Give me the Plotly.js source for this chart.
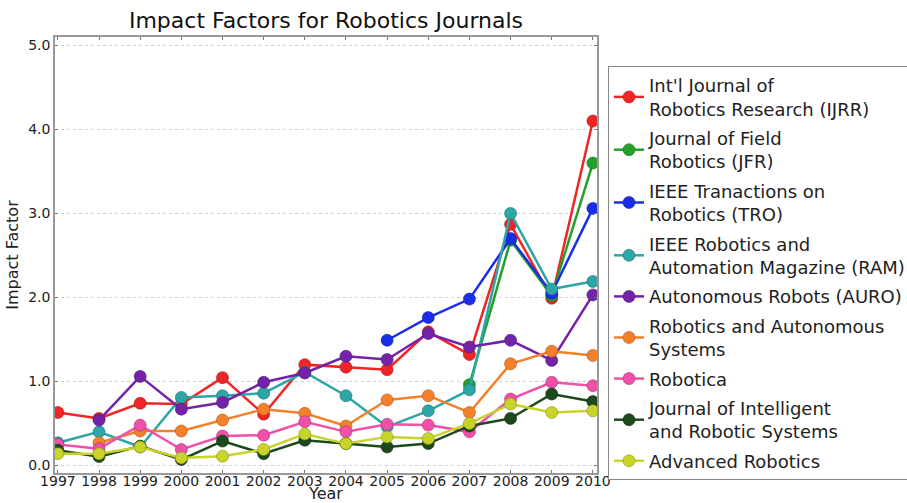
<!DOCTYPE html>
<html>
<head>
<meta charset="utf-8">
<script src="https://cdn.plot.ly/plotly-3.0.1.min.js"></script>
<style>html,body{margin:0;padding:0;background:#fff;}#chart{width:907px;height:503px;}</style>
</head>
<body>
<div id="chart"></div>
<script>
const years = [1997,1998,1999,2000,2001,2002,2003,2004,2005,2006,2007,2008,2009,2010];
const names = [
  "Int'l Journal of<br>Robotics Research (IJRR)",
  "Journal of Field<br>Robotics (JFR)",
  "IEEE Tranactions on<br>Robotics (TRO)",
  "IEEE Robotics and<br>Automation Magazine (RAM)",
  "Autonomous Robots (AURO)",
  "Robotics and Autonomous<br>Systems",
  "Robotica",
  "Journal of Intelligent<br>and Robotic Systems",
  "Advanced Robotics"
];
const ijrr = [0.63,0.56,0.74,0.73,1.045,0.61,1.20,1.17,1.14,1.59,1.32,2.87,1.99,4.10];
const jfr = [null,null,null,null,null,null,null,null,null,null,0.96,2.68,2.02,3.60];
const tro = [null,null,null,null,null,null,null,null,1.49,1.76,1.98,2.70,2.05,3.06];
const ram = [0.27,0.40,0.22,0.81,0.83,0.86,1.11,0.83,0.46,0.65,0.90,3.00,2.10,2.19];
const auro = [null,0.54,1.06,0.67,0.75,0.99,1.10,1.30,1.26,1.57,1.41,1.49,1.25,2.03];
const ras = [null,0.27,0.41,0.41,0.54,0.67,0.62,0.47,0.78,0.83,0.63,1.21,1.36,1.31];
const robotica = [0.25,0.20,0.48,0.19,0.35,0.36,0.52,0.40,0.49,0.48,0.40,0.79,0.99,0.95];
const jirs = [0.18,0.105,0.23,0.07,0.29,0.14,0.30,0.26,0.22,0.26,0.47,0.56,0.85,0.76];
const advrob = [0.14,0.14,0.22,0.09,0.11,0.19,0.375,0.26,0.34,0.32,0.50,0.73,0.63,0.65];
const series = [ijrr,jfr,tro,ram,auro,ras,robotica,jirs,advrob];
const colors = ['#f02626','#22a02a','#1a2ee8','#2ca6a6','#7422a8','#f5802a','#f050a8','#1d4a1d','#c8d42a'];
const edges = ['#a01818','#16701c','#10209a','#1c7070','#4c1670','#a8561c','#a03470','#0e2a0e','#8a9418'];

const traces = series.map((s,i)=>({
  x: years, y: s, name: names[i], type:'scatter', mode:'lines+markers',
  connectgaps:false, legendgroup:'g'+i,
  line:{color:colors[i], width:2.5},
  marker:{color:colors[i], size:12, line:{color:edges[i], width:0.6}}
}));

const layout = {
  width:907, height:503,
  margin:{l:55, r:310, t:37, b:30, autoexpand:false},
  paper_bgcolor:'#fff', plot_bgcolor:'#fff',
  font:{family:'DejaVu Sans', color:'#222', size:14},
  title:{text:'Impact Factors for Robotics Journals', font:{size:22, color:'#111'}, x:0.5, xref:'paper', y:0.975, yref:'container', yanchor:'top'},
  xaxis:{range:[1996.93,2010.1], dtick:1, tick0:1997, showgrid:false, zeroline:false,
    showline:true, linecolor:'#999', linewidth:1.5, mirror:'ticks', ticks:'inside', ticklen:3, tickcolor:'#777',
    tickfont:{size:14}, ticklabelstandoff:-6, title:{text:'Year', font:{size:16}, standoff:4}},
  yaxis:{range:[-0.09,5.1], dtick:1, tick0:0, tickformat:'.1f', showgrid:true, gridcolor:'#d0d0d0', griddash:'dot', gridwidth:1,
    zeroline:false, showline:true, linecolor:'#999', linewidth:1.5, mirror:'ticks', ticks:'inside', ticklen:3, tickcolor:'#777',
    tickfont:{size:14}, title:{text:'Impact Factor', font:{size:16}, standoff:6}},
  legend:{x:1.0203, xanchor:'left', y:0.9335, yanchor:'top', bordercolor:'#888', borderwidth:1, bgcolor:'#fff',
    font:{size:18, color:'#222'}, traceorder:'grouped', tracegroupgap:3, itemwidth:30, valign:'middle'},
  showlegend:true
};
Plotly.newPlot('chart', traces, layout, {displayModeBar:false});
</script>
</body>
</html>
